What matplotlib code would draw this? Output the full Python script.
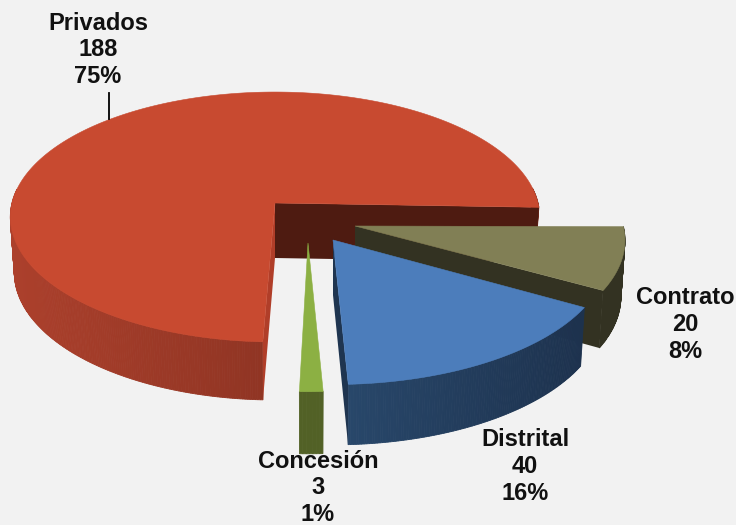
import numpy as np
import matplotlib
matplotlib.use("Agg")
import matplotlib.pyplot as plt
from matplotlib.patches import Polygon

names = ["Privados", "Concesión", "Distrital", "Contrato"]
counts = [188, 3, 40, 20]
percents = [75, 1, 16, 8]

BACKGROUND = "#f2f2f2"
TOP_COLORS = ["#c84a30", "#8cb043", "#4c7dbb", "#817f55"]
CUT_COLORS = ["#b03e29", "#526126", "#1f3550", "#333222"]
WALL_LIGHT = ["#ac402c", "#526126", "#28476a", "#333222"]
WALL_DARK = ["#72281a", "#526126", "#1d324e", "#333222"]
EAST_CUT = "#4e1b11"

# apex of each slice on the picture, the exploded ones come closer so they look bigger
APEX = [(275, 203), (308, 243), (333, 240), (355, 226)]
SCALE = [1.0, 1.07, 1.04, 1.02]
TURN = [0, 0.8, 0.9, 1.7]
LABEL_POS = [(98, 50), (318, 488), (525, 466.5), (685, 324.5)]

RX, RY, PERSP, DEPTH = 263, 123.4, 0.112, 55
START_ANGLE = -2


def project(theta, scale):
    u, v = np.cos(theta), np.sin(theta)
    w = 1 + PERSP * v
    return scale * RX * u / w, -scale * RY * v / w, scale * DEPTH / w ** 0.45


def rim(apex, theta, scale):
    dx, dy, d = project(theta, scale)
    top = np.column_stack([apex[0] + dx, apex[1] + dy])
    bottom = np.column_stack([apex[0] + dx * 0.985, apex[1] + dy + d])
    return top, bottom


def mix(c1, c2, t):
    a = np.array(matplotlib.colors.to_rgb(c1))
    b = np.array(matplotlib.colors.to_rgb(c2))
    return tuple(a + (b - a) * t)


fig = plt.figure(figsize=(7.36, 5.25), dpi=100, facecolor=BACKGROUND)
ax = fig.add_axes([0, 0, 1, 1])
ax.set_xlim(0, 736)
ax.set_ylim(525, 0)
ax.axis("off")

shares = np.array(counts) / sum(counts) * 2 * np.pi
starts = np.radians(START_ANGLE) + np.concatenate([[0], np.cumsum(shares)[:-1]])

# drawn back to front, the order on the picture is not the order of the data
for i in [0, 3, 2, 1]:
    apex = APEX[i]
    first = starts[i] + np.radians(TURN[i])
    theta = np.linspace(first, first + shares[i], max(int(np.degrees(shares[i]) * 2), 6))
    top, bottom = rim(apex, theta, SCALE[i])
    apex_low = (apex[0], apex[1] + DEPTH)

    # outer wall, one strip per step so the shade can change along it
    for j in range(len(theta) - 1):
        if np.sin(theta[j]) > 0.12:
            continue
        t = np.clip((top[j, 0] - top[:, 0].min()) / max(np.ptp(top[top[:, 1] > apex[1], 0]), 1), 0, 1)
        color = mix(WALL_LIGHT[i], WALL_DARK[i], t)
        strip = [top[j], top[j + 1], bottom[j + 1], bottom[j]]
        ax.add_patch(Polygon(strip, closed=True, facecolor=color, edgecolor=color, lw=0.6))

    # cut faces of the slice
    if i == 0:
        ax.add_patch(Polygon([apex, top[0], bottom[0], apex_low], closed=True,
                             facecolor=EAST_CUT, edgecolor="none"))
        ax.add_patch(Polygon([apex, top[-1], bottom[-1], apex_low], closed=True,
                             facecolor=CUT_COLORS[i], edgecolor="none"))
    elif i != 1:
        ax.add_patch(Polygon([apex, top[0], bottom[0], apex_low], closed=True,
                             facecolor=CUT_COLORS[i], edgecolor="none"))

    ax.add_patch(Polygon(np.vstack([[apex], top]), closed=True,
                         facecolor=TOP_COLORS[i], edgecolor=TOP_COLORS[i], lw=0.4))

for name, count, pct, (x, y) in zip(names, counts, percents, LABEL_POS):
    ax.text(x, y, f"{name}\n{count}\n{pct}%", ha="center", va="center", fontsize=17,
            fontweight="bold", family="Liberation Sans", color="#111111", linespacing=1.2)

ax.plot([109, 109], [93, 119], color="black", lw=1.3)

fig.savefig("out.png", dpi=100, facecolor=BACKGROUND)
